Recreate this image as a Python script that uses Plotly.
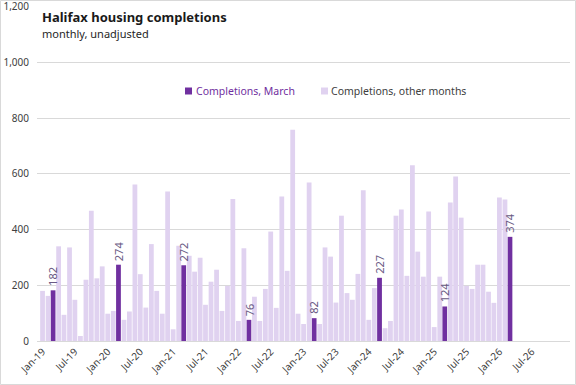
import plotly.graph_objects as go
import pandas as pd

start_month = "2019-01-01"
completions = [
    180, 162, 182, 340, 94, 336, 148, 18, 220, 468, 225, 268,   # 2019
    98, 108, 274, 76, 106, 562, 240, 120, 348, 180, 98, 537,    # 2020
    42, 342, 272, 306, 249, 299, 130, 213, 256, 108, 198, 510,  # 2021
    72, 333, 76, 159, 72, 187, 393, 119, 519, 252, 759, 98,     # 2022
    61, 569, 82, 61, 336, 303, 138, 450, 172, 148, 241, 541,    # 2023
    76, 190, 227, 46, 72, 450, 472, 234, 631, 321, 231, 465,    # 2024
    50, 231, 124, 497, 591, 443, 198, 187, 274, 274, 177, 137,  # 2025
    515, 508, 374,                                              # 2026
]
months = pd.date_range(start_month, periods=len(completions), freq="MS")
tick_months = pd.date_range("2019-01-01", "2026-07-01", freq="6MS")
tick_labels = [m.strftime("%b-%y") for m in tick_months]

march_x = [m for m in months if m.month == 3]
march_y = [v for m, v in zip(months, completions) if m.month == 3]
other_x = [m for m in months if m.month != 3]
other_y = [v for m, v in zip(months, completions) if m.month != 3]

title = "Halifax housing completions"
subtitle = "monthly, unadjusted"
series_names = ["Completions, March", "Completions, other months"]
series_colors = ["#7030a0", "#e0d2f0"]

FONT = "Noto Sans"
bar_w = 0.88 * 30.44 * 86400000

fig = go.Figure()
fig.add_trace(go.Bar(
    x=march_x, y=march_y, name=series_names[0],
    marker=dict(color=series_colors[0], line=dict(width=0)), width=bar_w,
))
fig.add_trace(go.Bar(
    x=other_x, y=other_y, name=series_names[1],
    marker=dict(color=series_colors[1], line=dict(width=0)), width=bar_w,
))

# plot area: x 37..570 px, y 6..341 px
PW, PH, L, B = 533.0, 335.0, 37.0, 341.0
def px(x):
    return (x - L) / PW
def py(y):
    return (B - y) / PH

legend_items = [(185, 196, 0), (321, 331, 1)]
shapes = [dict(type="rect", xref="paper", yref="paper",
               x0=px(0.5), x1=px(575.5), y0=py(384.5), y1=py(0.5),
               line=dict(color="#d9d9d9", width=1))]
annotations = [
    dict(text="<b>" + title + "</b>", xref="paper", yref="paper", x=px(40), y=py(17),
         xanchor="left", yanchor="middle", showarrow=False,
         font=dict(family=FONT, size=13, color="#1a1a1a")),
    dict(text=subtitle, xref="paper", yref="paper", x=px(40), y=py(33),
         xanchor="left", yanchor="middle", showarrow=False,
         font=dict(family=FONT, size=11, color="#262626")),
]
for sx, tx, i in legend_items:
    shapes.append(dict(type="rect", xref="paper", yref="paper",
                       x0=px(sx), x1=px(sx + 7), y0=py(94.5), y1=py(87.5),
                       fillcolor=series_colors[i], line=dict(width=0)))
    annotations.append(dict(text=series_names[i], xref="paper", yref="paper",
                            x=px(tx - 2), y=py(91), xanchor="left", yanchor="middle",
                            showarrow=False,
                            font=dict(family=FONT, size=10.5,
                                      color="#7030a0" if i == 0 else "#404040")))
# data labels for March bars
for mx, my in zip(march_x, march_y):
    annotations.append(dict(text=str(my), x=mx, y=my, xref="x", yref="y",
                            textangle=-90, xanchor="center", yanchor="bottom",
                            yshift=2, showarrow=False,
                            font=dict(family=FONT, size=11, color="#6a5a84")))

fig.update_layout(
    width=576, height=385,
    margin=dict(l=37, r=6, t=6, b=44),
    paper_bgcolor="white", plot_bgcolor="white",
    barmode="overlay",
    font=dict(family=FONT, size=10, color="#404040"),
    showlegend=False,
    xaxis=dict(type="date", range=["2018-12-01", "2027-01-31"],
               tickmode="array", tickvals=tick_months, ticktext=tick_labels,
               tickangle=-45, automargin=False,
               showgrid=False, showline=True, linecolor="#d9d9d9", linewidth=1,
               ticks="", tickfont=dict(family=FONT, size=10, color="#404040")),
    yaxis=dict(range=[0, 1203], dtick=200, tickformat=",", showgrid=True,
               gridcolor="#d9d9d9", gridwidth=1, zeroline=False, ticks="",
               automargin=False, ticklabelstandoff=7, ticklabeloverflow="allow",
               tickfont=dict(family=FONT, size=10, color="#404040")),
    annotations=annotations,
    shapes=shapes,
)

fig.write_html("out.html", config={"displayModeBar": False},
               post_script="document.body.style.margin='0';document.body.style.overflow='hidden';")
